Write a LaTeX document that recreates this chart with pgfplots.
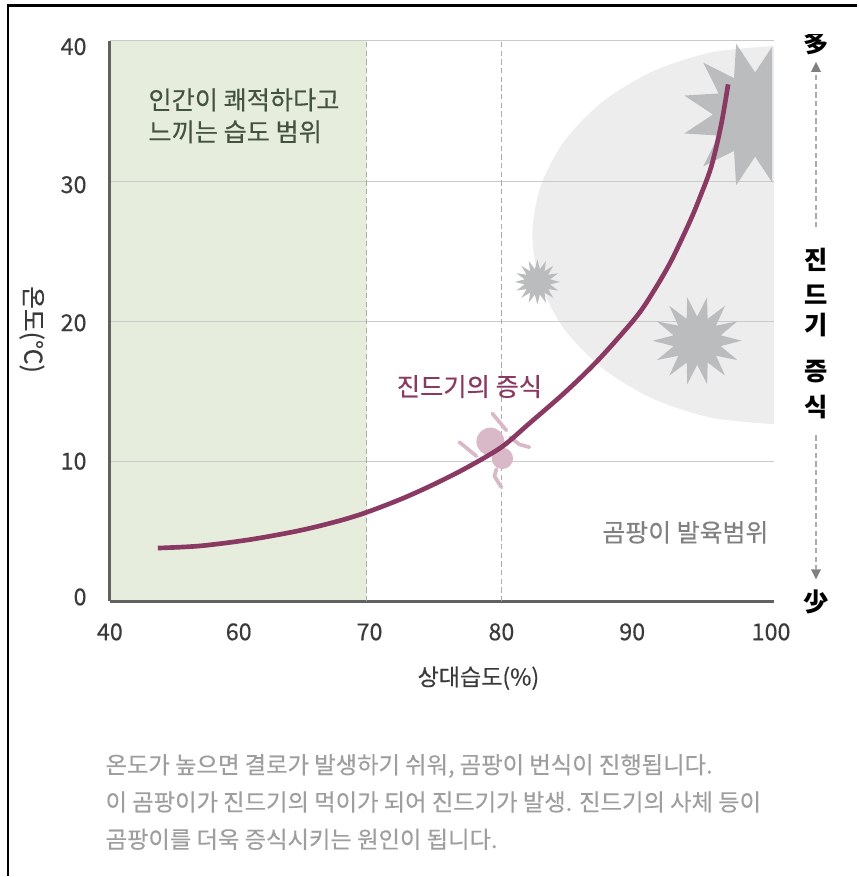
\documentclass[border=0pt]{standalone}
\usepackage{fontspec}
\usepackage{pgfplots}
\pgfplotsset{compat=1.18}
\usetikzlibrary{shapes.geometric}
\setmainfont{Noto Sans CJK KR}
\newfontfamily\med[FakeBold=0.35]{Noto Sans CJK KR}
\definecolor{ccurve}{HTML}{8A3A62}
\definecolor{cmite}{HTML}{D9B8C8}
\definecolor{cgreen}{HTML}{E7EDDD}
\definecolor{cmold}{HTML}{EDEDED}
\definecolor{cstar}{HTML}{BABCBE}
\definecolor{cgrid}{HTML}{C9CBC8}
\definecolor{cdash}{HTML}{ABABAB}
\definecolor{caxis}{HTML}{5F625F}
\definecolor{ctick}{HTML}{3A3A3A}
\definecolor{cgtext}{HTML}{445240}
\begin{document}
\begin{tikzpicture}
% page size, 1px = 0.75pt, y counted from the top
\begin{scope}[x=0.75pt,y=-0.75pt]
\path (0,0) rectangle (858,877);
\draw[black,line width=1.6pt] (8,877) -- (8,5.5) -- (858,5.5);
\end{scope}
% x axis is in picture columns because the humidity scale is not linear
\begin{axis}[
    at={(82.5pt,-451.5pt)}, anchor=south west,
    scale only axis, width=498.75pt, height=420.75pt,
    set layers,
    xmin=110, xmax=775, ymin=0, ymax=40,
    axis x line=bottom, axis y line=left,
    axis line style={-, caxis, line width=2.4pt},
    tick style={draw=none},
    major tick length=0pt,
    xtick={110,239,370,502,633,772},
    xticklabels={40,60,70,80,90,100},
    ytick={0,10,20,30,40},
    yticklabels={\raisebox{3pt}[12pt][0pt]{0},10,\raisebox{-1.5pt}[12pt][0pt]{20},\raisebox{-3pt}[12pt][0pt]{30},\raisebox{-4.5pt}[12pt][0pt]{40}},
    ymajorgrids=true,
    grid style={cgrid, line width=0.8pt},
    tick label style={font=\fontsize{17.5}{18}\selectfont\med, text=ctick},
    xticklabel style={yshift=-13pt},
    yticklabel style={xshift=-14pt},
    clip=false,
]
\addplot[on layer=axis background, fill=cgreen, draw=none]
    coordinates {(110,0)(367,0)(367,40)(110,40)} -- cycle;
\addplot[on layer=axis background, fill=cmold, draw=none, smooth]
    coordinates {(775,39.64)(712.4,39.19)(654,37.84)(603.9,35.69)(565.4,32.89)
    (541.3,29.64)(533,26.14)(541.3,22.65)(565.4,19.39)(603.9,16.60)
    (654,14.45)(712.4,13.10)(775,12.64)} -- cycle;
\addplot[cdash, dash pattern=on 4pt off 2.5pt, line width=0.9pt] coordinates {(367,0)(367,40)};
\addplot[cdash, dash pattern=on 4pt off 2.5pt, line width=0.9pt] coordinates {(502,0)(502,40)};
% mould stars
\begin{scope}
\clip (axis cs:110,0) rectangle (axis cs:773,40);
\node[star, star points=12, star point ratio=1.74, shape border rotate=15,
    fill=cstar, inner sep=0pt, minimum size=110pt] at (axis cs:756,34.75) {};
\end{scope}
\node[star, star points=16, star point ratio=1.75, fill=cstar, inner sep=0pt,
    minimum size=34pt] at (axis cs:538,22.8) {};
\node[star, star points=14, star point ratio=1.85, shape border rotate=12.9, fill=cstar, inner sep=0pt,
    minimum size=67pt] at (axis cs:698,18.6) {};
% mite
\fill[cmite] (axis cs:491,11.4) circle[radius=10.5pt];
\fill[cmite] (axis cs:503,10.2) circle[radius=8pt];
\draw[cmite, line width=2.8pt, line cap=round, line join=round]
    (axis cs:493,13.4) -- (axis cs:507,12.2)
    (axis cs:460,11.36) -- (axis cs:477,10.36)
    (axis cs:530,11) -- (axis cs:520,11.2) -- (axis cs:511,11.7)
    (axis cs:497,9.43) -- (axis cs:495,8.93) -- (axis cs:502,8.14);
% mite growth
\addplot[ccurve, line width=3.5pt, smooth] coordinates {
    (158,3.8)(200,3.95)(250,4.4)(300,5.05)(340,5.75)(367,6.35)(400,7.25)(430,8.2)
    (465,9.45)(502,11.0)(530,12.7)(567,15.0)(600,17.3)(637,20.3)(655,22.2)(672,24.3)
    (690,27)(700,28.7)(712,31)(722,34)(729,36.9)};
\end{axis}
\begin{scope}[x=0.75pt,y=-0.75pt]
\node[anchor=west, align=left, text=cgtext, font=\fontsize{18.9}{24}\selectfont\med]
    at (144,116) {인간이 쾌적하다고\\느끼는 습도 범위};
\node[text=ccurve, font=\fontsize{19}{20}\selectfont\med] at (470,387) {진드기의 증식};
\node[anchor=east, text=black!50, font=\fontsize{18.7}{20}\selectfont\med] at (774,533) {곰팡이 발육범위};
\node[text=ctick, font=\fontsize{17.3}{20}\selectfont\med] at (479,679) {상대습도(\%)};
\node[rotate=-90, text=ctick, font=\fontsize{18.5}{20}\selectfont\med] at (32,330) {온도(℃)};
\node[anchor=west, align=left, text=black!38, font=\fontsize{17.5}{28}\selectfont\med]
    at (101,803) {온도가 높으면 결로가 발생하기 쉬워, 곰팡이 번식이 진행됩니다.\\이 곰팡이가 진드기의 먹이가 되어 진드기가 발생. 진드기의 사체 등이\\곰팡이를 더욱 증식시키는 원인이 됩니다.};
% right hand scale
\begin{scope}
\clip (790,35) rectangle (850,70);
\node[font=\fontsize{19}{20}\selectfont\bfseries] at (817,43) {多};
\end{scope}
\foreach \ch/\yy in {진/260,드/295,기/325,증/372,식/408}
    \node[font=\fontsize{19}{20}\selectfont\bfseries] at (817,\yy) {\ch};
\node[font=\fontsize{19}{20}\selectfont\bfseries] at (817,603) {少};
\draw[cdash, dash pattern=on 4pt off 2.5pt, line width=0.8pt] (817,75) -- (817,228) (817,436) -- (817,570);
\fill[gray] (817,62) -- (822,72) -- (812,72) -- cycle;
\fill[gray] (817,580) -- (822,570) -- (812,570) -- cycle;
\end{scope}
\end{tikzpicture}
\end{document}
